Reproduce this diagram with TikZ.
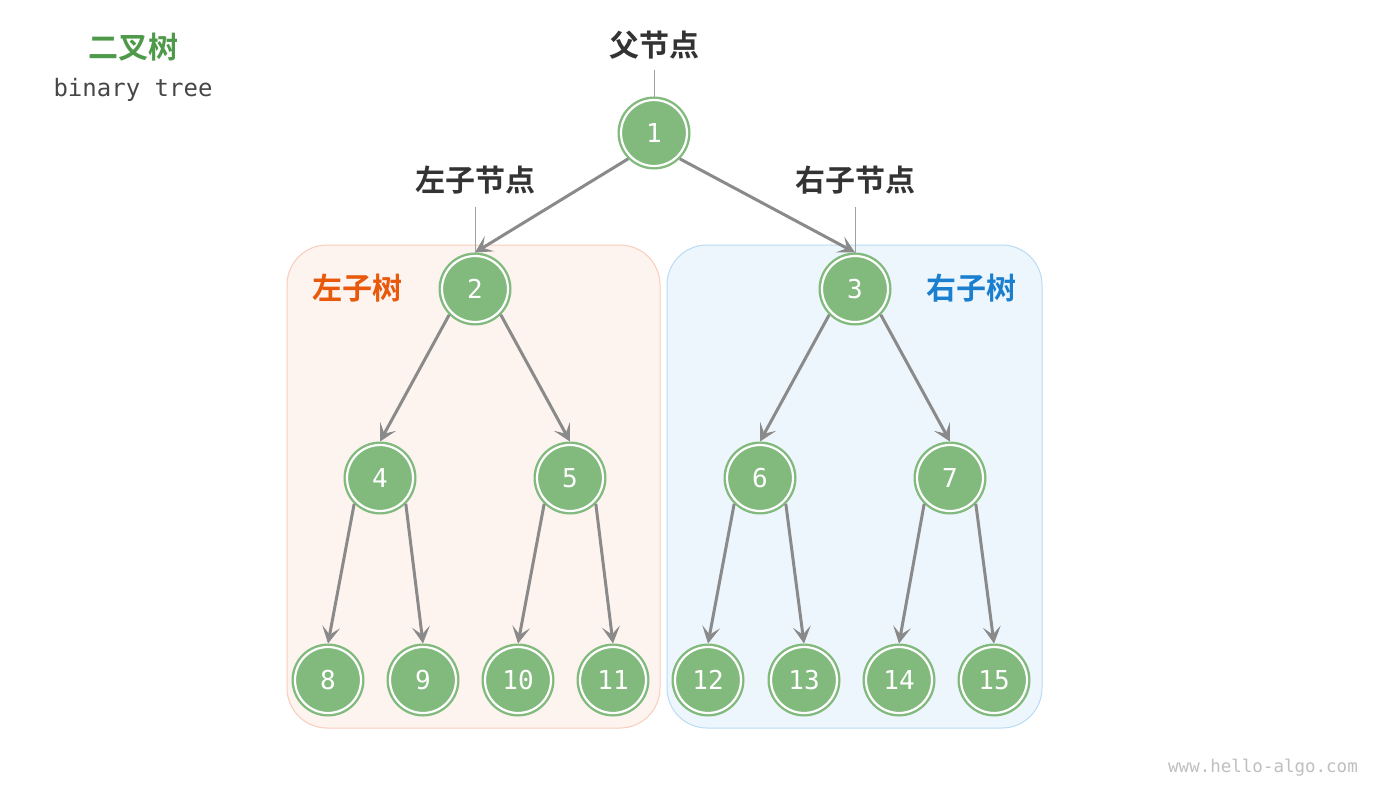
\documentclass[tikz,border=0pt]{standalone}
\usepackage{fontspec}
\setmainfont{DejaVu Sans}
\setmonofont{DejaVu Sans Mono}
\newfontfamily\cjk{Noto Sans CJK SC}[BoldFont={Noto Sans CJK SC Bold}]
\usetikzlibrary{arrows.meta}
\definecolor{nodegreen}{HTML}{82BA7E}
\definecolor{edgegray}{HTML}{8A8A8A}
\definecolor{titlegreen}{HTML}{4E9A4A}
\definecolor{textdark}{HTML}{333333}
\definecolor{leftfill}{HTML}{FDF4F0}
\definecolor{leftdraw}{HTML}{F8CDBB}
\definecolor{rightfill}{HTML}{EEF6FD}
\definecolor{rightdraw}{HTML}{B8DCF4}
\definecolor{lefttext}{HTML}{E8590C}
\definecolor{righttext}{HTML}{1A7FCF}
\tikzset{
  tnode/.style={circle, minimum size=66pt, inner sep=0pt, fill=nodegreen, draw=nodegreen,
    double=white, double distance=2.2pt, line width=2.4pt, outer sep=3.5pt,
    text=white, font=\ttfamily\fontsize{26}{26}\selectfont},
  edge/.style={draw=edgegray, line width=3pt,
    -{Stealth[length=17pt,width=18pt,inset=8pt,line width=1pt]}},
  callout/.style={draw=edgegray!80, line width=1pt},
  lbl/.style={text=textdark, font=\cjk\bfseries\fontsize{30}{30}\selectfont},
  subtree/.style={rounded corners=40pt, line width=1pt}
}
\begin{document}
\begin{tikzpicture}[x=1pt,y=-1pt]
\useasboundingbox (0,0) rectangle (1390,790);
\fill[white] (0,0) rectangle (1390,790);
% subtree boxes
\draw[subtree, fill=leftfill, draw=leftdraw] (287,245) rectangle (660,728);
\draw[subtree, fill=rightfill, draw=rightdraw] (667,245) rectangle (1042,728);
% title
\node[text=titlegreen, font=\cjk\bfseries\fontsize{30}{30}\selectfont] (title) at (133,47) {二叉树};
\node[text=textdark!90, font=\ttfamily\fontsize{24}{24}\selectfont] (subtitle) at (133,90) {binary tree};
% nodes
\node[tnode] (n1) at (654,133) {1};
\node[tnode] (n2) at (475,289) {2};
\node[tnode] (n3) at (855,289) {3};
\node[tnode] (n4) at (380,478) {4};
\node[tnode] (n5) at (570,478) {5};
\node[tnode] (n6) at (760,478) {6};
\node[tnode] (n7) at (950,478) {7};
\node[tnode] (n8) at (328,680) {8};
\node[tnode] (n9) at (423,680) {9};
\node[tnode] (n10) at (518,680) {10};
\node[tnode] (n11) at (613,680) {11};
\node[tnode] (n12) at (708,680) {12};
\node[tnode] (n13) at (804,680) {13};
\node[tnode] (n14) at (899,680) {14};
\node[tnode] (n15) at (994,680) {15};
% edges
\draw[edge] (n1.south west) -- (n2.north);
\draw[edge] (n1.south east) -- (n3.north);
\draw[edge] (n2.south west) -- (n4.north);
\draw[edge] (n2.south east) -- (n5.north);
\draw[edge] (n3.south west) -- (n6.north);
\draw[edge] (n3.south east) -- (n7.north);
\draw[edge] (n4.south west) -- (n8.north);
\draw[edge] (n4.south east) -- (n9.north);
\draw[edge] (n5.south west) -- (n10.north);
\draw[edge] (n5.south east) -- (n11.north);
\draw[edge] (n6.south west) -- (n12.north);
\draw[edge] (n6.south east) -- (n13.north);
\draw[edge] (n7.south west) -- (n14.north);
\draw[edge] (n7.south east) -- (n15.north);
% labels
\node[lbl] (lp) at (654,45) {父节点};
\node[lbl] (ll) at (475,180) {左子节点};
\node[lbl] (lr) at (855,180) {右子节点};
\coordinate (lpe) at (654,70);
\coordinate (lle) at (475,207);
\coordinate (lre) at (855,207);
\draw[callout] (lpe) -- (n1.north);
\draw[callout] (lle) -- (n2.north);
\draw[callout] (lre) -- (n3.north);
\node[text=lefttext, font=\cjk\bfseries\fontsize{30}{30}\selectfont] (lt) at (357,288) {左子树};
\node[text=righttext, font=\cjk\bfseries\fontsize{30}{30}\selectfont] (rt) at (971,288) {右子树};
% watermark
\node[text=black!25, font=\ttfamily\fontsize{17.5}{17.5}\selectfont] (wm) at (1263,768) {www.hello-algo.com};
\end{tikzpicture}
\end{document}
